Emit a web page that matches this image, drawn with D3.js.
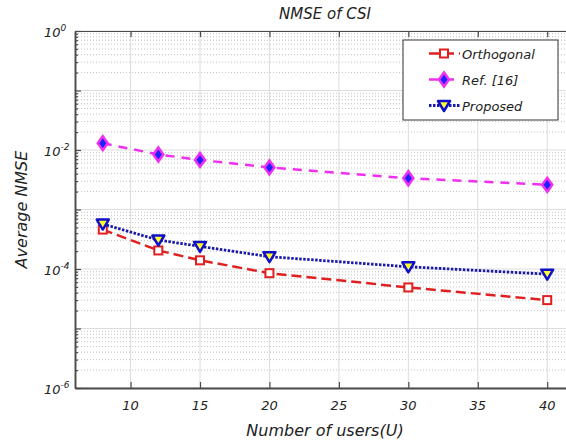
<!DOCTYPE html>
<html>
<head>
<meta charset="utf-8">
<script src="https://cdn.jsdelivr.net/npm/d3@7"></script>
<style>
  body { margin: 0; background: #fff; }
  text { font-family: "DejaVu Sans", Verdana, sans-serif; font-style: italic; fill: #222; }
</style>
</head>
<body>
<div id="chart"></div>
<script>
// data
var users = [8, 12, 15, 20, 30, 40];
var orthogonal = [4.6e-4, 2.05e-4, 1.4e-4, 8.5e-5, 4.9e-5, 3.0e-5];
var ref16 = [1.30e-2, 8.4e-3, 6.8e-3, 5.1e-3, 3.35e-3, 2.6e-3];
var proposed = [5.7e-4, 3.07e-4, 2.4e-4, 1.61e-4, 1.09e-4, 8.2e-5];
var xTicks = [10, 15, 20, 25, 30, 35, 40];
var yDecades = [0, -2, -4, -6];

var width = 566, height = 443;
var margin = { left: 75, right: -9, top: 31, bottom: 55 };

var svg = d3.select("#chart").append("svg")
    .attr("width", width)
    .attr("height", height);

var x = d3.scaleLinear().domain([6, 42]).range([margin.left, width - margin.right]);
var y = d3.scaleLog().domain([1e-6, 1]).range([height - margin.bottom, margin.top]);

var x0 = x.range()[0], x1 = x.range()[1];
var y0 = y.range()[0], y1 = y.range()[1];

// minor grid (dotted) for log y
var minor = [];
for (var k = -6; k < 0; k++) {
    for (var m = 2; m <= 9; m++) minor.push(m * Math.pow(10, k));
}
var allDec = [0, -1, -2, -3, -4, -5, -6].map(function (d) { return Math.pow(10, d); });

var grid = svg.append("g");
grid.selectAll(".ym").data(minor).enter().append("line")
    .attr("x1", x0).attr("x2", x1)
    .attr("y1", function (d) { return y(d); }).attr("y2", function (d) { return y(d); })
    .attr("stroke", "#c2c2c2").attr("stroke-width", 1).attr("stroke-dasharray", "1,2");
grid.selectAll(".yM").data(allDec).enter().append("line")
    .attr("x1", x0).attr("x2", x1)
    .attr("y1", function (d) { return y(d); }).attr("y2", function (d) { return y(d); })
    .attr("stroke", "#dcdcdc").attr("stroke-width", 1);
grid.selectAll(".xM").data(xTicks).enter().append("line")
    .attr("x1", function (d) { return x(d); }).attr("x2", function (d) { return x(d); })
    .attr("y1", y0).attr("y2", y1)
    .attr("stroke", "#dcdcdc").attr("stroke-width", 1);

// axes
var axisColor = "#4a4a4a";
var gx = svg.append("g").attr("transform", "translate(0," + y0 + ")")
    .call(d3.axisBottom(x).tickValues(xTicks).tickSize(-6).tickSizeOuter(0).tickFormat(""));
var gxt = svg.append("g").attr("transform", "translate(0," + y1 + ")")
    .call(d3.axisTop(x).tickValues(xTicks).tickSize(-6).tickSizeOuter(0).tickFormat(""));
var gy = svg.append("g").attr("transform", "translate(" + x0 + ",0)")
    .call(d3.axisLeft(y).tickValues(allDec).tickSize(-6).tickSizeOuter(0).tickFormat(""));
var gym = svg.append("g").attr("transform", "translate(" + x0 + ",0)")
    .call(d3.axisLeft(y).tickValues(minor).tickSize(-3).tickSizeOuter(0).tickFormat(""));
[gx, gxt, gy, gym].forEach(function (g) {
    g.selectAll("path,line").attr("stroke", axisColor).attr("stroke-width", 1.2);
});
gx.select("path").attr("stroke-width", 1.8);
gy.select("path").attr("stroke-width", 1.8);

// tick labels
svg.selectAll(".xl").data(xTicks).enter().append("text")
    .attr("x", function (d) { return x(d); })
    .attr("y", y0 + 22)
    .attr("text-anchor", "middle")
    .attr("font-size", 13)
    .text(function (d) { return d; });

var yl = svg.selectAll(".yl").data(yDecades).enter().append("text")
    .attr("x", x0 - 31)
    .attr("y", function (d) { return y(Math.pow(10, d)) + 6; })
    .attr("text-anchor", "start")
    .attr("font-size", 13);
yl.append("tspan").text("10");
yl.append("tspan").attr("dy", -6).attr("font-size", 9).text(function (d) { return d; });

// titles
svg.append("text").attr("x", (x0 + x1) / 2).attr("y", 19)
    .attr("text-anchor", "middle").attr("font-size", 15).text("NMSE of CSI");
svg.append("text").attr("x", (x0 + x1) / 2).attr("y", 436)
    .attr("text-anchor", "middle").attr("font-size", 16).text("Number of users(U)");
svg.append("text")
    .attr("transform", "translate(27," + ((y0 + y1) / 2) + ") rotate(-90)")
    .attr("text-anchor", "middle").attr("font-size", 16).text("Average NMSE");

// series
var series = [
    { name: "Orthogonal", values: orthogonal, color: "#e02020", dash: "10,5", width: 2.5, marker: "square" },
    { name: "Ref. [16]", values: ref16, color: "#f030f0", dash: "9,7", width: 2.5, marker: "diamond" },
    { name: "Proposed", values: proposed, color: "#1a1aa8", dash: "2.5,1.5", width: 2.8, marker: "tri" }
];

var line = d3.line()
    .x(function (d) { return x(d[0]); })
    .y(function (d) { return y(d[1]); });

function drawMarker(g, type, s) {
    if (type == "square") {
        g.append("rect").attr("x", -4).attr("y", -4).attr("width", 8).attr("height", 8)
            .attr("fill", "#fff").attr("stroke", s.color).attr("stroke-width", 2);
    } else if (type == "diamond") {
        g.append("path").attr("d", "M0,-7L5,0L0,7L-5,0Z")
            .attr("fill", "#2020ff").attr("stroke", s.color).attr("stroke-width", 2.5);
    } else {
        g.append("path").attr("d", "M-6,-4.5L6,-4.5L0,5.5Z")
            .attr("fill", "#ffff30").attr("stroke", "#1010c8").attr("stroke-width", 2.5)
            .attr("stroke-linejoin", "round");
    }
}

series.forEach(function (s) {
    var pts = users.map(function (u, i) { return [u, s.values[i]]; });
    svg.append("path").datum(pts)
        .attr("d", line)
        .attr("fill", "none")
        .attr("stroke", s.color)
        .attr("stroke-width", s.width)
        .attr("stroke-dasharray", s.dash);
    svg.selectAll(null).data(pts).enter().append("g")
        .attr("transform", function (d) { return "translate(" + x(d[0]) + "," + y(d[1]) + ")"; })
        .each(function () { drawMarker(d3.select(this), s.marker, s); });
});

// legend
var lg = svg.append("g");
lg.append("rect").attr("x", 403).attr("y", 40).attr("width", 155).attr("height", 80)
    .attr("fill", "#fff").attr("stroke", "#333").attr("stroke-width", 1);
series.forEach(function (s, i) {
    var ly = 53.5 + i * 26;
    lg.append("line").attr("x1", 429).attr("x2", 460).attr("y1", ly).attr("y2", ly)
        .attr("stroke", s.color).attr("stroke-width", s.width)
        .attr("stroke-dasharray", s.dash);
    var mg = lg.append("g").attr("transform", "translate(444," + ly + ")");
    drawMarker(mg, s.marker, s);
    lg.append("text").attr("x", 462).attr("y", ly + 5).attr("font-size", 13).text(s.name);
});
</script>
</body>
</html>
